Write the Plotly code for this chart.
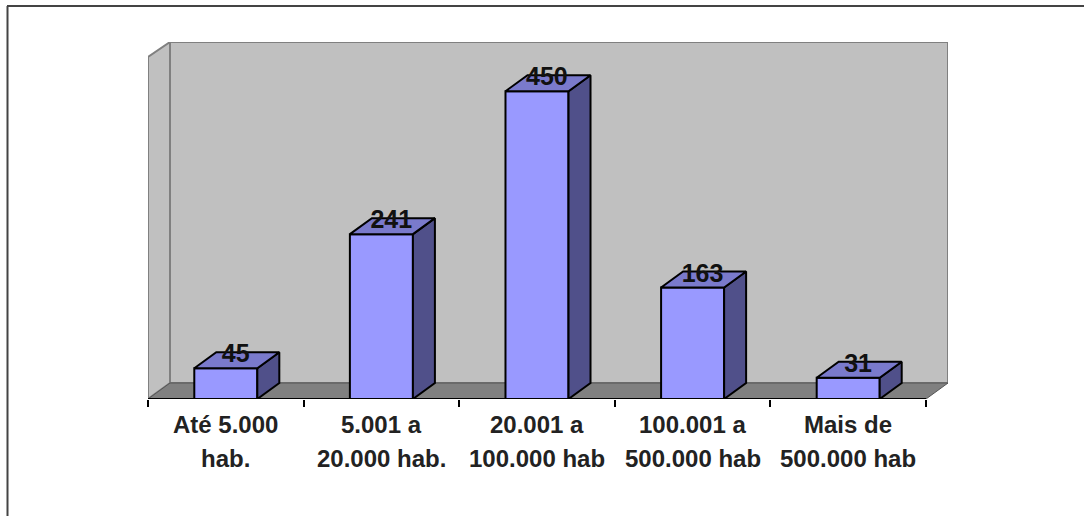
import plotly.graph_objects as go

line1 = ["Até 5.000", "5.001 a", "20.001 a", "100.001 a", "Mais de"]
line2 = ["hab.", "20.000 hab.", "100.000 hab", "500.000 hab", "500.000 hab"]
values = [45, 241, 450, 163, 31]
axis_max = 500

W, H = 1084, 516
X0, X1, Y0, Y1 = 148, 948, 399, 42
unit_x = 155.6
unit_y = 342 / axis_max
dx = 22 / unit_x
dy = 16 / unit_y
xmax = (X1 - X0) / unit_x
ymax = (Y0 - Y1) / unit_y
bar_w = 0.405
n = len(values)
pos = [i + 0.5 for i in range(n)]

fig = go.Figure()
fig.add_trace(go.Bar(x=pos, y=values, width=bar_w, marker=dict(color="#9999FF", line=dict(color="#000", width=2)),
                     hoverinfo="skip", showlegend=False))

topx, topy, sidex, sidey = [], [], [], []
for p, v in zip(pos, values):
    l, r = p - bar_w / 2, p + bar_w / 2
    topx += [l, r, r + dx, l + dx, l, None]
    topy += [v, v, v + dy, v + dy, v, None]
    sidex += [r, r + dx, r + dx, r, r, None]
    sidey += [0, dy, v + dy, v, 0, None]
fig.add_trace(go.Scatter(x=sidex, y=sidey, mode="lines", fill="toself", fillcolor="#50508A",
                         line=dict(color="#000", width=2), hoverinfo="skip", showlegend=False))
fig.add_trace(go.Scatter(x=topx, y=topy, mode="lines", fill="toself", fillcolor="#7A7ACC",
                         line=dict(color="#000", width=2), hoverinfo="skip", showlegend=False))
fig.add_trace(go.Scatter(x=[p + dx * 0.45 for p in pos], y=[v + dy * 0.76 for v in values], mode="text",
                         text=[f"<b>{v}</b>" for v in values], textposition="middle center",
                         textfont=dict(family="Liberation Sans", size=25, color="#111"),
                         hoverinfo="skip", showlegend=False, cliponaxis=False))
fig.add_trace(go.Scatter(x=[0, n], y=[0, 0], mode="lines", line=dict(color="#000", width=2),
                         hoverinfo="skip", showlegend=False, cliponaxis=False))

wall = dict(line=dict(color="#808080", width=2), layer="below", xref="x", yref="y")
shapes = [
    dict(type="path", path=f"M {dx} {dy} L {dx} {ymax} L {xmax} {ymax} L {xmax} {dy} Z", fillcolor="#C0C0C0", **wall),
    dict(type="path", path=f"M 0 0 L 0 {axis_max} L {dx} {ymax} L {dx} {dy} Z", fillcolor="#C0C0C0", **wall),
    dict(type="path", path=f"M 0 0 L {n} 0 L {xmax} {dy} L {dx} {dy} Z", fillcolor="#808080",
         line=dict(color="#555", width=1), layer="below", xref="x", yref="y"),
    dict(type="line", xref="paper", yref="paper", x0=7.5 / W, x1=7.5 / W, y0=0, y1=1 - 6 / H,
         line=dict(color="#444", width=2)),
    dict(type="line", xref="paper", yref="paper", x0=7 / W, x1=1, y0=1 - 6 / H, y1=1 - 6 / H,
         line=dict(color="#444", width=2)),
]

annotations = []
for p, a, b in zip(pos, line1, line2):
    for txt, shift in ((a, -25), (b, -59)):
        annotations.append(dict(x=p, y=0, xref="x", yref="y", text=f"<b>{txt}</b>", showarrow=False,
                                xanchor="center", yanchor="middle", yshift=shift,
                                font=dict(family="Liberation Sans", size=24, color="#222")))

fig.update_layout(
    width=W, height=H, autosize=False,
    margin=dict(l=0, r=0, t=0, b=0),
    paper_bgcolor="white", plot_bgcolor="rgba(0,0,0,0)",
    shapes=shapes, annotations=annotations, showlegend=False,
    xaxis=dict(domain=[X0 / W, X1 / W], range=[0, xmax], tickmode="array", tickvals=list(range(n + 1)),
               showticklabels=False, ticks="outside", ticklen=7, tickwidth=2, tickcolor="#000",
               showgrid=False, zeroline=False, showline=False, automargin=False),
    yaxis=dict(domain=[1 - Y0 / H, 1 - Y1 / H], range=[0, ymax], showticklabels=False, ticks="", showgrid=False,
               zeroline=False, showline=False, automargin=False),
)
fig.write_html("out.html", config={"displayModeBar": False},
               post_script="document.body.style.margin='0';document.documentElement.style.overflow='hidden';")
